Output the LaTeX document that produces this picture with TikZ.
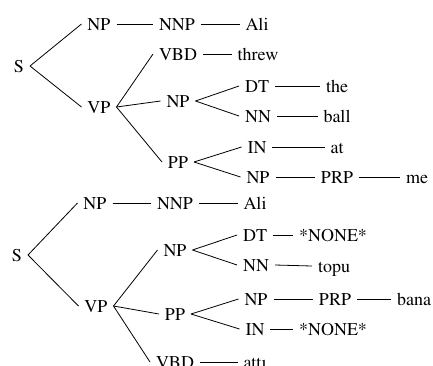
\documentclass[tikz,border=0pt]{standalone}
\usepackage[T1]{fontenc}
\usepackage{mathptmx}
\usepackage{tikz}

\begin{document}
\begin{tikzpicture}[x=1pt, y=-1pt,
    lbl/.style={inner xsep=6pt, inner ysep=0pt, outer sep=0pt,
        text height=12pt, text depth=0pt, font=\rmfamily\fontsize{18}{20}\selectfont},
    branch/.style={line width=0.8pt}
]
\useasboundingbox (0,0) rectangle (433,365);
% Ali threw the ball at me
\node[lbl] (s1) at (19,66) {S};
\node[lbl] (np1) at (99,24) {NP};
\node[lbl] (vp1) at (99,107) {VP};
\node[lbl] (nnp1) at (177,24) {NNP};
\node[lbl] (w-ali1) at (257,24) {Ali};
\node[lbl] (vbd1) at (178,54) {VBD};
\node[lbl] (w-threw) at (258,54) {threw};
\node[lbl] (np2) at (178,101) {NP};
\node[lbl] (dt1) at (257,86) {DT};
\node[lbl] (w-the) at (337,86) {the};
\node[lbl] (nn1) at (258,116) {NN};
\node[lbl] (w-ball) at (337,116) {ball};
\node[lbl] (pp1) at (178,162) {PP};
\node[lbl] (in1) at (257,147) {IN};
\node[lbl] (w-at) at (337,147) {at};
\node[lbl] (np3) at (258,177) {NP};
\node[lbl] (prp1) at (337,177) {PRP};
\node[lbl] (w-me) at (417,177) {me};
\draw[branch] (s1.east) -- (np1.west);
\draw[branch] (s1.east) -- (vp1.west);
\draw[branch] (np1.east) -- (nnp1.west);
\draw[branch] (nnp1.east) -- (w-ali1.west);
\draw[branch] (vp1.east) -- (vbd1.west);
\draw[branch] (vp1.east) -- (np2.west);
\draw[branch] (vp1.east) -- (pp1.west);
\draw[branch] (vbd1.east) -- (w-threw.west);
\draw[branch] (np2.east) -- (dt1.west);
\draw[branch] (np2.east) -- (nn1.west);
\draw[branch] (dt1.east) -- (w-the.west);
\draw[branch] (nn1.east) -- (w-ball.west);
\draw[branch] (pp1.east) -- (in1.west);
\draw[branch] (pp1.east) -- (np3.west);
\draw[branch] (in1.east) -- (w-at.west);
\draw[branch] (np3.east) -- (prp1.west);
\draw[branch] (prp1.east) -- (w-me.west);
% Ali topu bana atti
\node[lbl] (s2) at (17,255) {S};
\node[lbl] (np4) at (95,203) {NP};
\node[lbl] (vp2) at (96,306) {VP};
\node[lbl] (nnp2) at (175,203) {NNP};
\node[lbl] (w-ali2) at (255,203) {Ali};
\node[lbl] (np5) at (175,250) {NP};
\node[lbl] (dt2) at (255,235) {DT};
\node[lbl] (w-none1) at (333,235) {*NONE*};
\node[lbl] (nn2) at (256,265) {NN};
\node[lbl] (w-topu) at (334,266) {topu};
\node[lbl] (pp2) at (175,314) {PP};
\node[lbl] (np6) at (256,299) {NP};
\node[lbl] (prp2) at (335,299) {PRP};
\node[lbl] (w-bana) at (414,299) {bana};
\node[lbl] (in2) at (255,329) {IN};
\node[lbl] (w-none2) at (333,329) {*NONE*};
\node[lbl] (vbd2) at (175,362) {VBD};
\node[lbl] (w-atti) at (255,362) {att\i};
\draw[branch] (s2.east) -- (np4.west);
\draw[branch] (s2.east) -- (vp2.west);
\draw[branch] (np4.east) -- (nnp2.west);
\draw[branch] (nnp2.east) -- (w-ali2.west);
\draw[branch] (vp2.east) -- (np5.west);
\draw[branch] (vp2.east) -- (pp2.west);
\draw[branch] (vp2.east) -- (vbd2.west);
\draw[branch] (np5.east) -- (dt2.west);
\draw[branch] (np5.east) -- (nn2.west);
\draw[branch] (dt2.east) -- (w-none1.west);
\draw[branch] (nn2.east) -- (w-topu.west);
\draw[branch] (pp2.east) -- (np6.west);
\draw[branch] (pp2.east) -- (in2.west);
\draw[branch] (np6.east) -- (prp2.west);
\draw[branch] (prp2.east) -- (w-bana.west);
\draw[branch] (in2.east) -- (w-none2.west);
\draw[branch] (vbd2.east) -- (w-atti.west);
\end{tikzpicture}
\end{document}
